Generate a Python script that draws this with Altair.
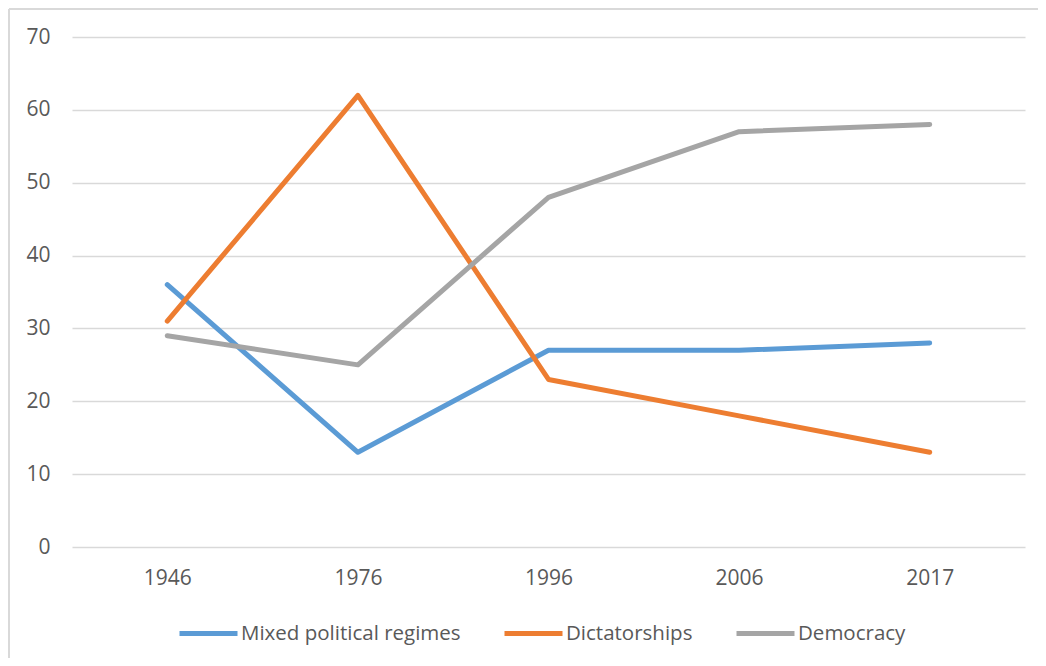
import altair as alt
import pandas as pd

years = ["1946", "1976", "1996", "2006", "2017"]
series_names = ["Mixed political regimes", "Dictatorships", "Democracy"]
mixed = [36, 13, 27, 27, 28]
dictatorships = [31, 62, 23, 18, 13]
democracy = [29, 25, 48, 57, 58]
colors = ["#5B9BD5", "#ED7D31", "#A5A5A5"]

rows = []
for name, vals in zip(series_names, [mixed, dictatorships, democracy]):
    for i, (y, v) in enumerate(zip(years, vals)):
        rows.append({"year": y, "value": v, "series": name, "order": i})
df = pd.DataFrame(rows)

FONT = "Open Sans"
GRID = "#D9D9D9"
TEXT = "#595959"
FS = 21

lines = alt.Chart(df).mark_line(strokeWidth=5, strokeCap="round", strokeJoin="round").encode(
    x=alt.X("year:O", sort=years, title=None,
            scale=alt.Scale(type="point", padding=0.5),
            axis=alt.Axis(labelAngle=0, ticks=False, domain=False, labelPadding=20,
                          labelFontSize=FS, labelColor=TEXT, labelFont=FONT, grid=False)),
    y=alt.Y("value:Q", title=None,
            scale=alt.Scale(domain=[0, 70], nice=False),
            axis=alt.Axis(values=[0, 10, 20, 30, 40, 50, 60, 70], ticks=False, domain=False,
                          labelPadding=22, labelFontSize=FS, labelColor=TEXT, labelFont=FONT,
                          gridColor=GRID, gridWidth=1.5)),
    color=alt.Color("series:N", sort=series_names,
                    scale=alt.Scale(domain=series_names, range=colors),
                    legend=alt.Legend(title=None, orient="none", direction="horizontal",
                                      legendX=105, legendY=565,
                                      symbolType="stroke", symbolSize=3364, symbolStrokeWidth=5,
                                      labelFontSize=20.5, labelColor=TEXT, labelFont=FONT,
                                      labelLimit=400, labelOffset=1, columnPadding=33)),
    order="order:Q",
)

border_df = pd.DataFrame({"k": [0]})
left_border = alt.Chart(border_df).mark_rule(color=GRID, strokeWidth=2).encode(
    x=alt.value(-63), y=alt.value(-28), y2=alt.value(630))
top_border = alt.Chart(border_df).mark_rule(color=GRID, strokeWidth=2).encode(
    x=alt.value(-63), x2=alt.value(970), y=alt.value(-28))

chart = alt.layer(lines, left_border, top_border).properties(
    width=953, height=510,
    padding={"left": 64, "top": 29, "right": 13, "bottom": 111},
    autosize=alt.AutoSizeParams(type="none"),
).configure_view(stroke=None)

chart.save("out.html", embed_options={"renderer": "svg", "actions": False})
